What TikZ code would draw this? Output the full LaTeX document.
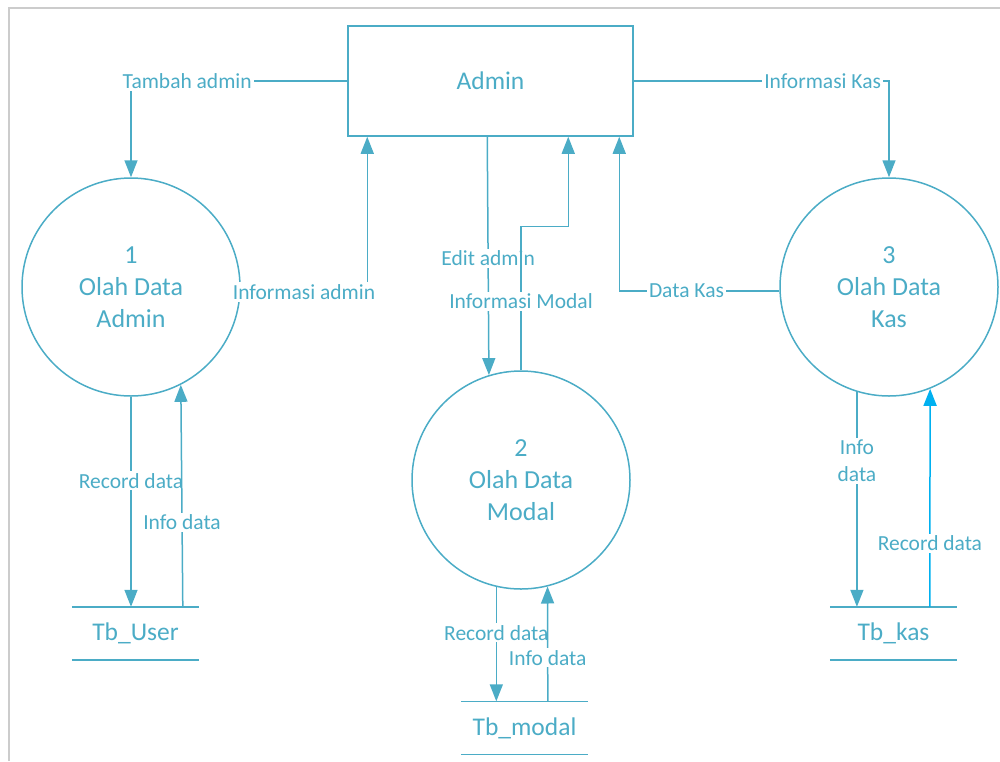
\documentclass[tikz,border=0pt]{standalone}
\usepackage{fontspec}
\setmainfont{Carlito}
\usetikzlibrary{shapes.geometric, arrows.meta, positioning}
\definecolor{dfd}{RGB}{75,172,198}
\definecolor{dfdbright}{RGB}{0,176,240}
\tikzstyle{entity} = [rectangle, minimum width=285pt, minimum height=110pt, draw=dfd, line width=1.5pt, text=dfd, font=\fontsize{25.5}{30}\selectfont]
\tikzstyle{process} = [circle, minimum size=218pt, draw=dfd, line width=1.5pt, text=dfd, align=center, font=\fontsize{26}{32}\selectfont]
\tikzstyle{store} = [rectangle, minimum width=127pt, minimum height=53pt, text=dfd, font=\fontsize{25.5}{30}\selectfont]
\tikzstyle{storeline} = [draw=dfd, line width=1.5pt]
\tikzstyle{flow} = [draw=dfd, line width=1.5pt, -{Triangle[length=17pt,width=13pt]}]
\tikzstyle{lbl} = [fill=white, text=dfd, inner sep=2pt, align=center, font=\fontsize{21.5}{27}\selectfont]

\begin{document}
\begin{tikzpicture}[x=1pt, y=-1pt]

\useasboundingbox (0,0) rectangle (1000,761);
\draw [gray!40, line width=2pt] (9,761) -- (9,8) -- (1000,8);

% Entitas dan proses
\node (admin) [entity] at (490.5,81) {Admin};
\node (c1) [process] at (131,287) {1\\Olah Data\\Admin};
\node (c2) [process] at (521,480) {2\\Olah Data\\Modal};
\node (c3) [process] at (889,287) {3\\Olah Data\\Kas};

% Data store
\node (tbuser) [store] at (135.5,633.5) {Tb\_User};
\node (tbmodal) [store] at (524.5,728) {Tb\_modal};
\node (tbkas) [store] at (893.5,633.5) {Tb\_kas};
\foreach \s in {tbuser,tbmodal,tbkas}
  \draw [storeline] (\s.north west) -- (\s.north east) (\s.south west) -- (\s.south east);

% Alur admin
\draw [flow] (admin.west) -| node[lbl, pos=0.37] {Tambah admin} (c1.north);
\draw [flow] (c1.east) -| node[lbl, pos=0.25, yshift=-5pt] {Informasi admin} ([xshift=20pt]admin.south west);

% Alur modal
\draw [flow] ([xshift=140pt]admin.south west) -- node[lbl, pos=0.51] {Edit admin} (c2.107);
\draw [flow] (c2.north) -- node[lbl, pos=0.48] {Informasi Modal} ++(0,-144) -| ([xshift=221pt]admin.south west);

% Alur kas
\draw [flow] (admin.east) -| node[lbl, pos=0.37] {Informasi Kas} (c3.north);
\draw [flow] (c3.182) -| node[lbl, pos=0.29] {Data Kas} ([xshift=272pt]admin.south west);

% Proses ke data store
\draw [flow] (c1.south) -- node[lbl, pos=0.4] {Record data} (c1.south |- tbuser.north);
\draw [flow] ([xshift=111pt]tbuser.north west) -- node[lbl, pos=0.38] {Info data} (c1.-63);

\draw [flow] (c2.-103) -- node[lbl, pos=0.4] {Record data} (c2.-103 |- tbmodal.north);
\draw [flow] ([xshift=87pt]tbmodal.north west) -- node[lbl, pos=0.38] {Info data} (c2.-76);

\draw [flow] (c3.-107) -- node[lbl, pos=0.32] {Info\\data} (c3.-107 |- tbkas.north);
\draw [flow, draw=dfdbright, -{Triangle[length=17pt,width=13pt,fill=dfdbright]}] ([xshift=100pt]tbkas.north west) -- node[lbl, pos=0.29] {Record data} (c3.-68);

\end{tikzpicture}
\end{document}
